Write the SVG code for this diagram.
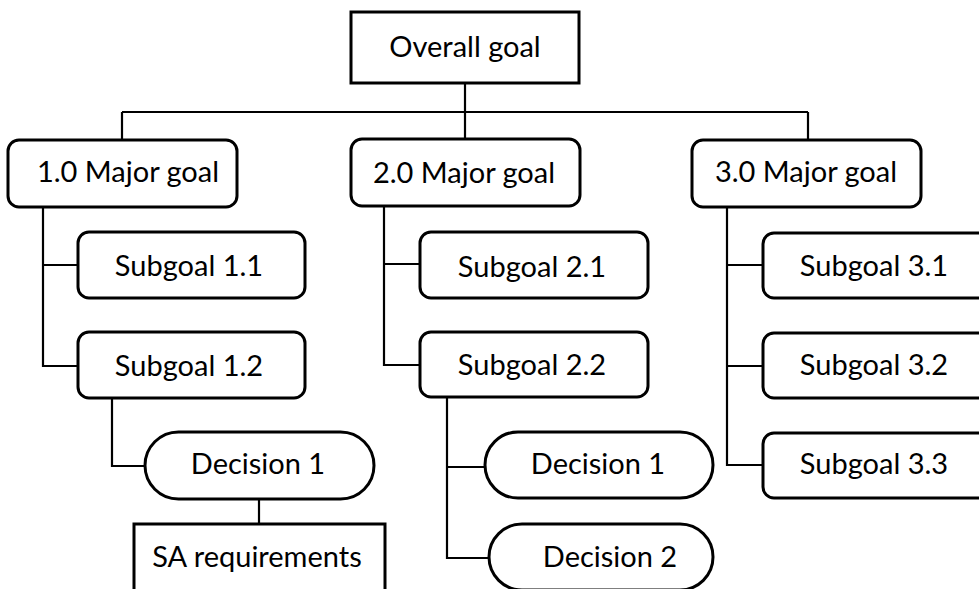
<svg xmlns="http://www.w3.org/2000/svg" width="979" height="589" viewBox="0 0 979 589">
  <style>
    .box { fill: #ffffff; stroke: #000000; stroke-width: 3; }
    .link { fill: none; stroke: #000000; stroke-width: 2.2; }
    .label { font-family: Lato, "Liberation Sans", sans-serif; font-size: 29px; fill: #000000; text-anchor: middle; }
  </style>
  <rect width="979" height="589" fill="#ffffff"/>

  <!-- connectors -->
  <g id="connectors">
    <path class="link" d="M465,83 V139"/>
    <path class="link" d="M122,112 H808"/>
    <path class="link" d="M122,112 V140 M808,112 V140"/>
    <!-- branch 1 -->
    <path class="link" d="M43,207 V366 H79 M43,265 H79"/>
    <path class="link" d="M112,398 V466 H146"/>
    <path class="link" d="M259,499 V524"/>
    <!-- branch 2 -->
    <path class="link" d="M384,206 V365 H420 M384,264 H420"/>
    <path class="link" d="M447,397 V558 H490 M447,467 H486"/>
    <!-- branch 3 -->
    <path class="link" d="M727,207 V465 H763 M727,265 H763 M727,366 H763"/>
  </g>

  <g id="overall-goal">
    <rect class="box" x="351" y="12" width="228" height="71"/>
    <text class="label" x="465" y="57">Overall goal</text>
  </g>

  <g id="major-goal-1">
    <rect class="box" x="8" y="140" width="229" height="67" rx="11"/>
    <text class="label" x="128" y="182">1.0 Major goal</text>
  </g>
  <g id="major-goal-2">
    <rect class="box" x="351" y="139" width="229" height="67" rx="11"/>
    <text class="label" x="464" y="183">2.0 Major goal</text>
  </g>
  <g id="major-goal-3">
    <rect class="box" x="692" y="140" width="229" height="67" rx="11"/>
    <text class="label" x="806" y="182">3.0 Major goal</text>
  </g>

  <g id="subgoal-1-1">
    <rect class="box" x="78" y="232" width="227" height="66" rx="11"/>
    <text class="label" x="189" y="276">Subgoal 1.1</text>
  </g>
  <g id="subgoal-1-2">
    <rect class="box" x="78" y="332" width="227" height="66" rx="11"/>
    <text class="label" x="189" y="376">Subgoal 1.2</text>
  </g>
  <g id="decision-1-2-1">
    <rect class="box" x="145" y="432" width="229" height="67" rx="33.5"/>
    <text class="label" x="258" y="474">Decision 1</text>
  </g>
  <g id="sa-requirements">
    <rect class="box" x="134" y="524" width="251" height="80"/>
    <text class="label" x="257" y="567">SA requirements</text>
  </g>

  <g id="subgoal-2-1">
    <rect class="box" x="420" y="232" width="228" height="66" rx="11"/>
    <text class="label" x="532" y="277">Subgoal 2.1</text>
  </g>
  <g id="subgoal-2-2">
    <rect class="box" x="420" y="332" width="228" height="65" rx="11"/>
    <text class="label" x="532" y="375">Subgoal 2.2</text>
  </g>
  <g id="decision-2-2-1">
    <rect class="box" x="485" y="432" width="228" height="66" rx="33"/>
    <text class="label" x="598" y="474">Decision 1</text>
  </g>
  <g id="decision-2-2-2">
    <rect class="box" x="489" y="524" width="224" height="66" rx="33"/>
    <text class="label" x="610" y="567">Decision 2</text>
  </g>

  <g id="subgoal-3-1">
    <rect class="box" x="763" y="233" width="240" height="65" rx="11"/>
    <text class="label" x="874" y="276">Subgoal 3.1</text>
  </g>
  <g id="subgoal-3-2">
    <rect class="box" x="763" y="333" width="240" height="65" rx="11"/>
    <text class="label" x="874" y="375">Subgoal 3.2</text>
  </g>
  <g id="subgoal-3-3">
    <rect class="box" x="763" y="433" width="240" height="65" rx="11"/>
    <text class="label" x="874" y="474">Subgoal 3.3</text>
  </g>
</svg>
